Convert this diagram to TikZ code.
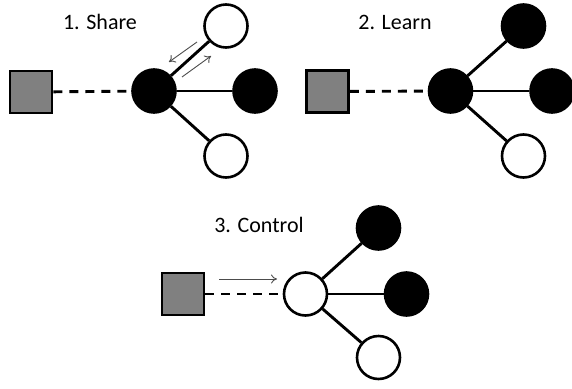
\documentclass[tikz,border=0pt]{standalone}
\usepackage{fontspec}
\setmainfont{Carlito}
\usetikzlibrary{arrows.meta}
\begin{document}
\begin{tikzpicture}[x=1pt,y=-1pt,
  sq/.style={draw=black,line width=2.6pt,fill=black!50,minimum size=42pt,inner sep=0pt,shape=rectangle},
  bnode/.style={draw=black,line width=2.6pt,fill=black,circle,minimum size=43pt,inner sep=0pt},
  wnode/.style={draw=black,line width=2.6pt,fill=white,circle,minimum size=43pt,inner sep=0pt},
  link/.style={line width=2.9pt},
  dlink/.style={line width=2.9pt,dash pattern=on 9pt off 7pt},
  flow/.style={draw=black!70,line width=0.9pt,-{To[length=6pt,width=9pt]}},
  lbl/.style={font=\fontsize{22}{24}\selectfont,text=black}]
\useasboundingbox (0,0) rectangle (572,388);
\clip (0,0) rectangle (572,388);
% Panel 1
\node[lbl] (t1) at (100,22) {1. Share};
\node[sq] (s1) at (31,92) {};
\node[bnode] (c1) at (154,91) {};
\node[wnode] (u1) at (226,26) {};
\node[bnode] (r1) at (255,91) {};
\node[wnode] (d1) at (226,156) {};
\draw[dlink] (s1) -- (c1);
\draw[link] (c1) -- (u1);
\draw[link] (c1) -- (r1);
\draw[link] (c1) -- (d1);
\coordinate (a1s) at (197,42);
\coordinate (a1e) at (169,62);
\coordinate (a2s) at (182,77);
\coordinate (a2e) at (211,56);
\draw[flow] (a1s) -- (a1e);
\draw[flow] (a2s) -- (a2e);
% Panel 2
\node[lbl] (t2) at (395,22) {2. Learn};
\node[sq] (s2) at (327.5,91.5) {};
\node[bnode] (c2) at (450.5,91) {};
\node[bnode] (u2) at (523.5,26) {};
\node[bnode] (r2) at (552,91) {};
\node[wnode] (d2) at (523.5,156) {};
\draw[dlink] (s2) -- (c2);
\draw[link] (c2) -- (u2);
\draw[link] (c2) -- (r2);
\draw[link] (c2) -- (d2);
% Panel 3
\node[lbl] (t3) at (259,225) {3. Control};
\node[sq] (s3) at (183,294) {};
\node[wnode] (c3) at (305.5,294) {};
\node[bnode] (u3) at (378.5,228) {};
\node[bnode] (r3) at (406.5,294) {};
\node[wnode] (d3) at (378.5,357.5) {};
\draw[dlink] (s3) -- (c3);
\draw[link] (c3) -- (u3);
\draw[link] (c3) -- (r3);
\draw[link] (c3) -- (d3);
\coordinate (a3s) at (219,279);
\coordinate (a3e) at (277,279);
\draw[flow] (a3s) -- (a3e);
\end{tikzpicture}
\end{document}
